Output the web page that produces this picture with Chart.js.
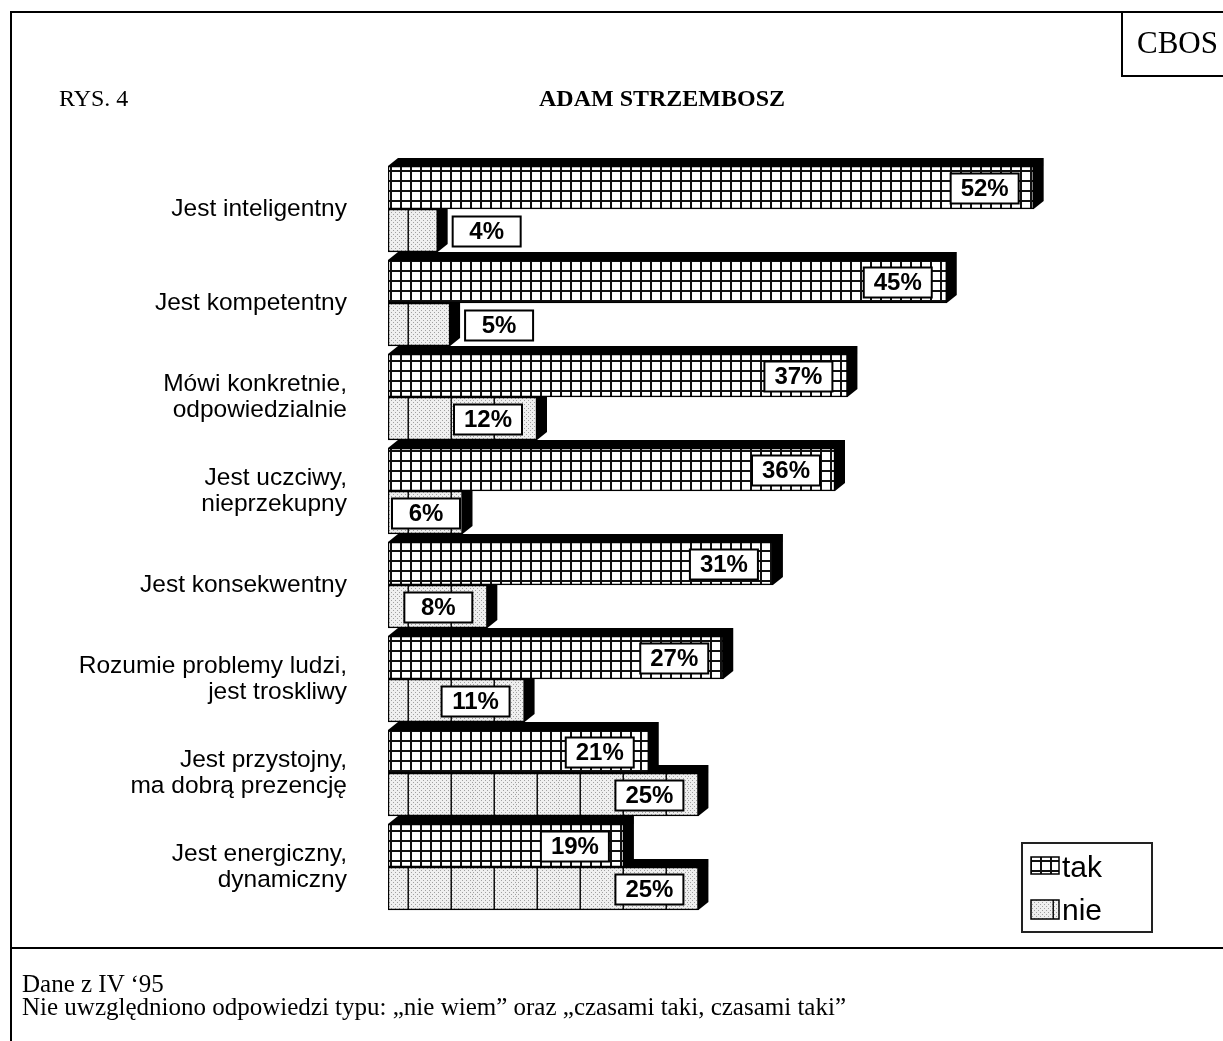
<!DOCTYPE html>
<html>
<head>
<meta charset="utf-8">
<script src="https://cdn.jsdelivr.net/npm/chart.js@4/dist/chart.umd.min.js"></script>
<style>
	html, body { margin: 0; padding: 0; background: #fff; }
	body { width: 1223px; height: 1041px; position: relative; overflow: hidden; }
	#wrap { position: absolute; left: 0; top: 0; width: 1223px; height: 1041px; }
	.ln { position: absolute; background: #000; }
	.serif { position: absolute; font-family: 'Times New Roman', 'Liberation Serif', serif; color: #000; line-height: 1; white-space: nowrap; }
	#cbos { position: absolute; left: 1121px; top: 11px; width: 110px; height: 64px; border-left: 2px solid #000; border-bottom: 2px solid #000; }
</style>
</head>
<body>
<div id="wrap"><canvas id="chart"></canvas></div>

<!-- ramka -->
<div class="ln" style="left:10px;top:11px;width:1213px;height:2px"></div>
<div class="ln" style="left:10px;top:11px;width:2px;height:1030px"></div>
<div class="ln" style="left:10px;top:947px;width:1213px;height:2px"></div>
<div id="cbos"></div>
<div class="serif" style="left:1137px;top:27px;font-size:31px">CBOS</div>

<div class="serif" style="left:59px;top:86px;font-size:24px">RYS. 4</div>
<div class="serif" style="left:539px;top:86px;font-size:24px;font-weight:bold">ADAM STRZEMBOSZ</div>

<div class="serif" style="left:22px;top:971px;font-size:25px">Dane z IV ‘95</div>
<div class="serif" style="left:22px;top:994px;font-size:25px">Nie uwzględniono odpowiedzi typu: „nie wiem” oraz „czasami taki, czasami taki”</div>

<script>
// ─── dane ───
const categories = [
	'Jest inteligentny',
	'Jest kompetentny',
	['Mówi konkretnie,', 'odpowiedzialnie'],
	['Jest uczciwy,', 'nieprzekupny'],
	'Jest konsekwentny',
	['Rozumie problemy ludzi,', 'jest troskliwy'],
	['Jest przystojny,', 'ma dobrą prezencję'],
	['Jest energiczny,', 'dynamiczny'],
];
const takValues = [52, 45, 37, 36, 31, 27, 21, 19];
const nieValues = [4, 5, 12, 6, 8, 11, 25, 25];
const seriesNames = ['tak', 'nie'];

const SANS = "Arial, 'Liberation Sans', sans-serif";
const DX = 10, DY = 8;   // głębokość efektu 3D

const canvas = document.getElementById('chart');
const ctx = canvas.getContext('2d');

// ─── wzory wypełnienia ───
function gridPattern() {
	const c = document.createElement('canvas');
	c.width = 10; c.height = 10;
	const g = c.getContext('2d');
	g.fillStyle = '#fff'; g.fillRect(0, 0, 10, 10);
	g.fillStyle = '#111';
	g.fillRect(0, 0, 2, 10);
	g.fillRect(0, 0, 10, 2);
	return ctx.createPattern(c, 'repeat');
}
function dotPattern() {
	const c = document.createElement('canvas');
	c.width = 43; c.height = 4;
	const g = c.getContext('2d');
	g.fillStyle = '#efefef'; g.fillRect(0, 0, 43, 4);
	g.fillStyle = '#a0a0a0';
	for (let x = 0; x < 43; x++) {
		for (let y = 0; y < 4; y++) {
			if ((x % 4 === 0 && y % 4 === 0) || (x % 4 === 2 && y % 4 === 2)) g.fillRect(x, y, 1, 1);
		}
	}
	g.fillStyle = '#111';
	g.fillRect(20.5, 0, 1.5, 4);
	return ctx.createPattern(c, 'repeat');
}
const takFill = gridPattern();
const nieFill = dotPattern();

// ─── bryła 3D: czarny wierzch i bok ───
const depthPlugin = {
	id: 'depth',
	beforeDatasetsDraw(chart) {
		const c = chart.ctx;
		c.save();
		c.fillStyle = '#000';
		chart.data.datasets.forEach((ds, i) => {
			chart.getDatasetMeta(i).data.forEach(el => {
				const l = el.base, r = el.x;
				const t = el.y - el.height / 2, b = el.y + el.height / 2;
				c.beginPath();
				c.moveTo(l, t);
				c.lineTo(l + DX, t - DY);
				c.lineTo(r + DX, t - DY);
				c.lineTo(r + DX, b - DY);
				c.lineTo(r, b);
				c.lineTo(l, b);
				c.closePath();
				c.fill();
			});
		});
		c.restore();
	}
};

// ─── etykiety wartości w ramkach ───
const valueBoxPlugin = {
	id: 'valueBoxes',
	afterDatasetsDraw(chart) {
		const c = chart.ctx;
		const bw = 68, bh = 30, gap = 15;
		c.save();
		c.font = `bold 24px ${SANS}`;
		c.textAlign = 'center';
		c.textBaseline = 'middle';
		chart.data.datasets.forEach((ds, i) => {
			chart.getDatasetMeta(i).data.forEach((el, j) => {
				const start = el.base, end = el.x;
				let left;
				if (end - start >= bw + 6) {
					left = Math.max(start + 4, end - gap - bw);
				} else {
					left = end + gap;
				}
				const top = el.y - bh / 2 + 1;
				c.fillStyle = '#fff';
				c.fillRect(left, top, bw, bh);
				c.lineWidth = 2;
				c.strokeStyle = '#000';
				c.strokeRect(left, top, bw, bh);
				c.fillStyle = '#000';
				c.fillText(ds.data[j] + '%', left + bw / 2, top + bh / 2 + 1);
			});
		});
		c.restore();
	}
};

// ─── legenda ───
const legendBoxPlugin = {
	id: 'legendBox',
	afterDraw(chart) {
		const c = chart.ctx;
		const x = 1022, y = 843, w = 130, h = 89;
		c.save();
		c.fillStyle = '#fff';
		c.fillRect(x, y, w, h);
		c.lineWidth = 2;
		c.strokeStyle = '#222';
		c.strokeRect(x, y, w, h);
		const rows = [
			{ fill: takFill, sy: 857, sh: 17, ty: 877 },
			{ fill: nieFill, sy: 900, sh: 19, ty: 920 },
		];
		c.font = `30px ${SANS}`;
		c.textBaseline = 'alphabetic';
		rows.forEach((r, i) => {
			c.fillStyle = r.fill;
			c.fillRect(1031, r.sy, 28, r.sh);
			c.lineWidth = 1.5;
			c.strokeStyle = '#000';
			c.strokeRect(1031, r.sy, 28, r.sh);
			c.fillStyle = '#000';
			c.fillText(chart.data.datasets[i].label, 1062, r.ty);
		});
		c.restore();
	}
};

new Chart(ctx, {
	type: 'bar',
	data: {
		labels: categories,
		datasets: [
			{ label: seriesNames[0], data: takValues, backgroundColor: takFill },
			{ label: seriesNames[1], data: nieValues, backgroundColor: nieFill },
		]
	},
	options: {
		indexAxis: 'y',
		responsive: true,
		maintainAspectRatio: false,
		animation: false,
		events: [],
		layout: { padding: { left: 0, right: 90, top: 162, bottom: 127 } },
		datasets: {
			bar: {
				barThickness: 43,
				borderColor: '#000',
				borderWidth: 1.5,
				borderSkipped: false,
			}
		},
		plugins: {
			legend: { display: false },
			tooltip: { enabled: false },
		},
		scales: {
			x: {
				display: false,
				min: 0,
				max: 60,
			},
			y: {
				grid: { display: false, drawTicks: false },
				border: { display: false },
				ticks: {
					color: '#000',
					padding: 41,
					font: { family: SANS, size: 24.5, lineHeight: 1.07 },
				},
				afterFit(scale) { scale.width = 388; }
			}
		}
	},
	plugins: [depthPlugin, valueBoxPlugin, legendBoxPlugin]
});
</script>
</body>
</html>
